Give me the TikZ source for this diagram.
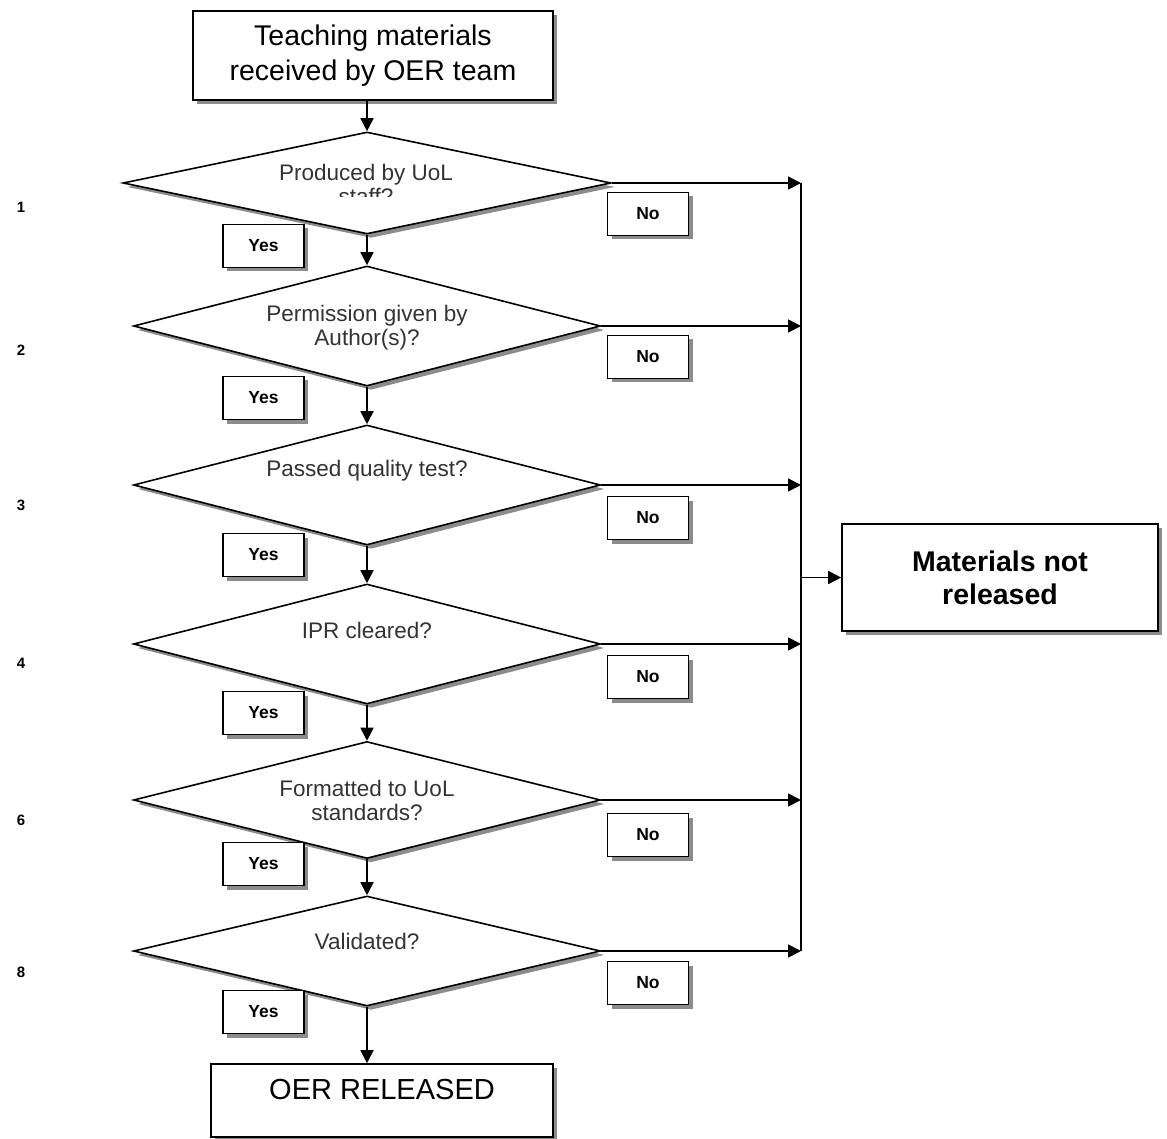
\documentclass[tikz,border=0pt]{standalone}
\usepackage{fontspec}
\setmainfont{Liberation Sans}
\usetikzlibrary{shapes.geometric,arrows.meta,shadows}
\begin{document}
\begin{tikzpicture}[x=1pt,y=-1pt,
  shad/.style={drop shadow={shadow xshift=4pt, shadow yshift=-4pt, fill=black!45, opacity=1}},
  box/.style={draw, line width=1.6pt, fill=white, shad},
  decision/.style={diamond, draw, line width=1.6pt, fill=white, inner sep=0pt, shad},
  tag/.style={box, minimum width=81pt, minimum height=43pt, inner sep=0pt, font=\bfseries\fontsize{17.5}{20}\selectfont},
  qtext/.style={align=center, text=black!80, font=\fontsize{22.5}{24}\selectfont, inner sep=0pt},
  num/.style={font=\bfseries\fontsize{15}{17}\selectfont, inner sep=0pt},
  arr/.style={line width=1.8pt, -{Triangle[length=13pt,width=13pt]}},
  ln/.style={line width=1.8pt}
]
\useasboundingbox (0,0) rectangle (1167,1139);

% top box
\node[box, minimum width=360pt, minimum height=89pt, align=center,
      font=\fontsize{28.5}{35}\selectfont] (start) at (373,55.5)
      {Teaching materials\\received by OER team};

% decisions
\node[decision, minimum width=488pt, minimum height=102pt] (d1) at (367,183) {};
\node[decision, minimum width=467pt, minimum height=120pt] (d2) at (367,326) {};
\node[decision, minimum width=467pt, minimum height=120pt] (d3) at (367,485) {};
\node[decision, minimum width=467pt, minimum height=120pt] (d4) at (367,644) {};
\node[decision, minimum width=467pt, minimum height=117pt] (d5) at (367,800) {};
\node[decision, minimum width=467pt, minimum height=110pt] (d6) at (367,951) {};

\begin{scope}
  \clip (240,150) rectangle (500,197);
  \node[qtext] (t1) at (366,184) {Produced by UoL\\staff?};
\end{scope}
\node[qtext] (t2) at (367,328) {Permission given by\\Author(s)?};
\node[qtext] (t3) at (367,471) {Passed quality test?};
\node[qtext] (t4) at (367,630) {IPR cleared?};
\node[qtext] (t5) at (367,800) {Formatted to UoL\\standards?};
\node[qtext] (t6) at (367,941) {Validated?};

% end boxes
\node[box, minimum width=342pt, minimum height=73pt] (rel) at (382,1100.5) {};
\node[font=\fontsize{29}{32}\selectfont, inner sep=0pt] (relt) at (382,1090) {OER RELEASED};
\node[box, minimum width=316pt, minimum height=107pt, align=center,
      font=\bfseries\fontsize{28.5}{33}\selectfont] (mnr) at (1000,577.5)
      {Materials not\\released};

% Yes / No tags
\node[tag] (y1) at (263.5,246) {Yes};
\node[tag] (y2) at (263.5,398) {Yes};
\node[tag] (y3) at (263.5,555) {Yes};
\node[tag] (y4) at (263.5,713) {Yes};
\node[tag] (y5) at (263.5,864) {Yes};
\node[tag] (y6) at (263.5,1012) {Yes};
\node[tag] (n1) at (648,214) {No};
\node[tag] (n2) at (648,357) {No};
\node[tag] (n3) at (648,518) {No};
\node[tag] (n4) at (648,677) {No};
\node[tag] (n5) at (648,835) {No};
\node[tag] (n6) at (648,983) {No};

% step numbers
\node[num] (k1) at (21,207) {1};
\node[num] (k2) at (21,350) {2};
\node[num] (k3) at (21,505) {3};
\node[num] (k4) at (21,663) {4};
\node[num] (k5) at (21,820) {6};
\node[num] (k6) at (21,972) {8};

% vertical flow
\draw[arr] (d1.north |- start.south) -- (d1.north);
\draw[arr] (d1.south) -- (d2.north);
\draw[arr] (d2.south) -- (d3.north);
\draw[arr] (d3.south) -- (d4.north);
\draw[arr] (d4.south) -- (d5.north);
\draw[arr] (d5.south) -- (d6.north);
\draw[arr] (d6.south) -- (d6.south |- rel.north);

% collector bus
\coordinate (bt) at (801,183);
\coordinate (bb) at (801,951);
\draw[ln] (bt) -- (bb);
\draw[arr] (d1.east) -- (d1.east -| bt);
\draw[arr] (d2.east) -- (d2.east -| bt);
\draw[arr] (d3.east) -- (d3.east -| bt);
\draw[arr] (d4.east) -- (d4.east -| bt);
\draw[arr] (d5.east) -- (d5.east -| bt);
\draw[arr] (d6.east) -- (d6.east -| bt);
\draw[arr] (mnr.west -| bt) -- (mnr.west);
\end{tikzpicture}
\end{document}
